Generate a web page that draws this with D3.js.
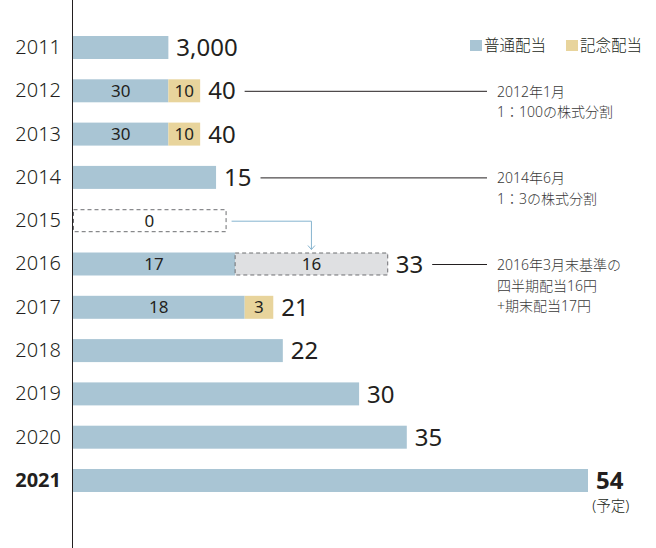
<!DOCTYPE html>
<html><head><meta charset="utf-8">
<script src="https://cdn.jsdelivr.net/npm/d3@7"></script>
<style>
html,body{margin:0;padding:0;background:#fff;}
svg{display:block;}
text{font-family:"Noto Sans","Noto Sans CJK JP",sans-serif;}
</style></head>
<body>
<svg id="c" width="656" height="548"></svg>
<script>
// ---- data ----
const years = ["2011","2012","2013","2014","2015","2016","2017","2018","2019","2020","2021"];
const regular = [3000, 30, 30, 15, 0, 17, 18, 22, 30, 35, 54];      // 普通配当 (yen at the time)
const commemorative = [0, 10, 10, 0, 0, 0, 3, 0, 0, 0, 0];          // 記念配当
const quarterly = [0, 0, 0, 0, 0, 16, 0, 0, 0, 0, 0];                // 2016 quarterly dividend shifted from 2015
const splitFactor = [300, 3, 3, 1, 1, 1, 1, 1, 1, 1, 1];            // split adjustment for bar length
const totalLabels = ["3,000","40","40","15","","33","21","22","30","35","54"];
const legendLabels = ["普通配当","記念配当"];
const notes = [
  {year:"2012", lines:["2012年1月","1：100の株式分割"]},
  {year:"2014", lines:["2014年6月","1：3の株式分割"]},
  {year:"2016", lines:["2016年3月末基準の","四半期配当16円","+期末配当17円"]}
];

const C_REG = "#a9c5d4", C_COM = "#e8d49c", C_Q = "#dfe0e2", C_TXT = "#231f20";
const LW = 400;

const svg = d3.select("#c");
const x = d3.scaleLinear().domain([0, 54]).range([73, 588]);
const y = d3.scaleBand().domain(years).range([25.85, 502.15]).paddingInner(0.469).paddingOuter(0.2345);
const bh = y.bandwidth();
const cy = yr => y(yr) + bh/2;

// axis line
svg.append("line").attr("x1",72.5).attr("x2",72.5).attr("y1",0).attr("y2",548)
  .attr("stroke","#231f20").attr("stroke-width",1);

// year labels
const yAxis = d3.axisLeft(y).tickSize(0).tickPadding(0);
const ya = svg.append("g").attr("transform","translate(61,0)").call(yAxis);
ya.select(".domain").remove();
ya.selectAll("text").attr("font-size",20).attr("fill",C_TXT)
  .attr("font-family",'"Noto Sans","Noto Sans CJK JP",sans-serif')
  .attr("font-weight", d => d==="2021" ? "bold" : 300);

const rows = years.map((yr,i)=>{
  const f = splitFactor[i];
  const r = regular[i]/f, c = commemorative[i]/f;
  return {yr, i, r, c, q: quarterly[i]};
});

const g = svg.append("g");
rows.forEach(d=>{
  const yy = y(d.yr);
  if (d.r > 0) g.append("rect").attr("x",x(0)).attr("y",yy).attr("width",x(d.r)-x(0)).attr("height",bh).attr("fill",C_REG);
  if (d.c > 0) g.append("rect").attr("x",x(d.r)).attr("y",yy).attr("width",x(d.r+d.c)-x(d.r)).attr("height",bh).attr("fill",C_COM);
  if (d.q > 0) g.append("rect").attr("x",x(d.r+d.c)).attr("y",yy+0.5).attr("width",x(d.r+d.c+d.q)-x(d.r+d.c)).attr("height",bh-1)
      .attr("fill",C_Q).attr("stroke","#6d6e71").attr("stroke-dasharray","4,3");
});

// 2015 placeholder (0) — same size as the shifted quarterly dividend
const qIdx = quarterly.findIndex(v=>v>0);
const zIdx = years.indexOf("2015");
g.append("rect").attr("x",x(0)+0.5).attr("y",y(years[zIdx])+0.5).attr("width",x(quarterly[qIdx])-x(0)).attr("height",bh-1)
  .attr("fill","#fff").attr("stroke","#6d6e71").attr("stroke-dasharray","4,3");
g.append("text").attr("x",(x(0)+x(quarterly[qIdx]))/2).attr("y",cy(years[zIdx])).attr("dy","0.36em")
  .attr("text-anchor","middle").attr("font-size",17).attr("font-weight",LW).attr("fill",C_TXT).text(regular[zIdx]);

// arrow from 2015 box to 2016 quarterly box
const qd = rows[qIdx];
const ax0 = x(quarterly[qIdx]) + 6, ax1 = (x(qd.r+qd.c) + x(qd.r+qd.c+qd.q))/2;
const ay0 = cy(years[zIdx]), ay1 = y(years[qIdx]) - 3;
svg.append("path").attr("d",`M${ax0},${ay0+0.5}H${ax1}V${ay1}`).attr("fill","none").attr("stroke","#86b4cf").attr("stroke-width",1);
svg.append("path").attr("d",`M${ax1-3.5},${ay1-4}L${ax1},${ay1}L${ax1+3.5},${ay1-4}`).attr("fill","none").attr("stroke","#86b4cf").attr("stroke-width",1);

// in-bar labels for multi-segment rows
function inLabel(cx, yr, txt){
  g.append("text").attr("x",cx).attr("y",cy(yr)).attr("dy","0.36em").attr("text-anchor","middle")
    .attr("font-size",17).attr("font-weight",LW).attr("fill",C_TXT).text(txt);
}
rows.forEach(d=>{
  const segs = (d.c>0?1:0)+(d.q>0?1:0);
  if (segs===0) return;
  inLabel((x(0)+x(d.r))/2, d.yr, regular[d.i]);
  if (d.c>0) inLabel((x(d.r)+x(d.r+d.c))/2, d.yr, commemorative[d.i]);
  if (d.q>0) inLabel((x(d.r+d.c)+x(d.r+d.c+d.q))/2, d.yr, quarterly[d.i]);
});

// total labels
const labelEnd = {};
rows.forEach(d=>{
  if (!totalLabels[d.i]) return;
  const bold = d.yr==="2021";
  const t = g.append("text").attr("x",x(d.r+d.c+d.q)+8).attr("y",cy(d.yr)).attr("dy","0.36em")
    .attr("font-size",24).attr("fill",C_TXT)
    .attr("font-weight", bold ? "bold" : LW).text(totalLabels[d.i]);
  const w = t.node().getComputedTextLength();
  labelEnd[d.yr] = x(d.r+d.c+d.q)+8 + w;
  if (bold) {
    g.append("text").attr("x",x(d.r)+8+w/2+1).attr("y",cy(d.yr)+25).attr("dy","0.36em")
      .attr("text-anchor","middle").attr("font-size",14.5).attr("font-weight",300).attr("fill",C_TXT).text("(予定)");
  }
});

// notes
notes.forEach(n=>{
  const yy = cy(n.year);
  svg.append("line").attr("x1",labelEnd[n.year]+9).attr("x2",487).attr("y1",yy+0.5).attr("y2",yy+0.5)
    .attr("stroke","#231f20").attr("stroke-width",1);
  n.lines.forEach((l,k)=>{
    svg.append("text").attr("x",497).attr("y",yy+1+k*20.5).attr("dy","0.36em").attr("font-size",14)
      .attr("font-weight",300).attr("fill","#3a3a3a").text(l);
  });
});

// legend
const lg = svg.append("g");
[[470, C_REG, legendLabels[0]],[566, C_COM, legendLabels[1]]].forEach(([lx,col,lab])=>{
  lg.append("rect").attr("x",lx).attr("y",40).attr("width",12).attr("height",11).attr("fill",col);
  lg.append("text").attr("x",lx+14).attr("y",45.5).attr("dy","0.36em").attr("font-size",15.5)
    .attr("font-weight",300).attr("fill",C_TXT).text(lab);
});
</script>
</body></html>
